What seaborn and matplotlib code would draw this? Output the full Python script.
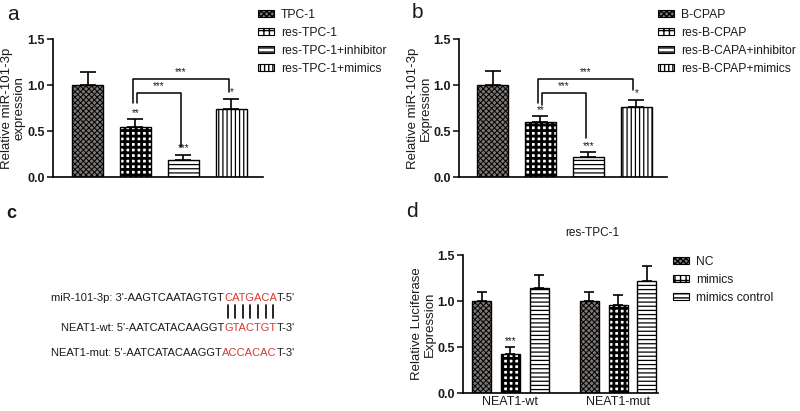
import matplotlib
matplotlib.use("Agg")
import matplotlib.pyplot as plt
import seaborn as sns
import numpy as np
import pandas as pd
from matplotlib.patches import Patch

# -----------------------------
# DATA
# -----------------------------
a_groups = ["TPC-1", "res-TPC-1", "res-TPC-1+inhibitor", "res-TPC-1+mimics"]
a_means = [1.00, 0.54, 0.19, 0.74]
a_errs = [0.145, 0.09, 0.05, 0.11]
a_stars = ["", "**", "***", "*"]

b_groups = ["B-CPAP", "res-B-CPAP", "res-B-CAPA+inhibitor", "res-B-CPAP+mimics"]
b_means = [1.00, 0.60, 0.22, 0.765]
b_errs = [0.15, 0.06, 0.05, 0.075]
b_stars = ["", "**", "***", "*"]

# brackets: (x_left, x_right, left_bottom, top, right_bottom, label)
a_brackets = [(0.95, 2.95, 0.80, 1.07, 0.92, "***"), (1.03, 1.95, 0.80, 0.915, 0.33, "***")]
b_brackets = [(0.95, 2.93, 0.80, 1.07, 0.95, "***"), (1.03, 1.94, 0.78, 0.915, 0.42, "***")]

d_sites = ["NEAT1-wt", "NEAT1-mut"]
d_treat = ["NC", "mimics", "mimics control"]
d_means = {"NC": [1.00, 1.00], "mimics": [0.42, 0.955], "mimics control": [1.14, 1.22]}
d_errs = {"NC": [0.10, 0.10], "mimics": [0.075, 0.115], "mimics control": [0.14, 0.16]}
d_stars = {"mimics": ["***", ""]}

seq_rows = [
    ("miR-101-3p: 3'-AAGTCAATAGTGT", "CATGACA", "T-5'"),
    ("NEAT1-wt: 5'-AATCATACAAGGT", "GTACTGT", "T-3'"),
    ("NEAT1-mut: 5'-AATCATACAAGGT", "ACCACAC", "T-3'"),
]

# -----------------------------
# STYLE
# -----------------------------
sns.set_style("white")
plt.rcParams["font.family"] = ["Liberation Sans", "DejaVu Sans"]
plt.rcParams["hatch.color"] = "black"

TXT = "#1a1a1a"
RED = "#d8392f"
# (facecolor, hatch, hatch linewidth)
STYLES = [("#7d7773", "xxxxxx", 0.7), ("white", "+++", 2.0),
          ("white", "----", 0.9), ("white", "||||", 0.9)]

W, H = 800, 411
fig = plt.figure(figsize=(8, 4.11), dpi=100)

# overlay axes in pixel coords (panel c text + letters)
ov = fig.add_axes([0, 0, 1, 1])
ov.set_xlim(0, W)
ov.set_ylim(H, 0)
ov.axis("off")


def px_axes(left, right, top, bottom):
    return fig.add_axes([left / W, 1 - bottom / H, (right - left) / W, (bottom - top) / H])


def style_bars(patches, style):
    face, hatch, hlw = style
    for p in patches:
        p.set_facecolor(face)
        p.set_edgecolor("black")
        p.set_linewidth(1.0)
        p.set_hatch(hatch)
        if hasattr(p, "set_hatch_linewidth"):
            p.set_hatch_linewidth(hlw)


def make_handle(style):
    face, hatch, hlw = style
    h = Patch(facecolor=face, edgecolor="black", hatch=hatch, linewidth=0.8)
    if hasattr(h, "set_hatch_linewidth"):
        h.set_hatch_linewidth(hlw)
    return h


def style_axes(ax, ylabel, width_px):
    ax.set_ylim(0, 1.5)
    ax.set_yticks([0, 0.5, 1.0, 1.5])
    ax.set_yticklabels(["0.0", "0.5", "1.0", "1.5"])
    for lbl in ax.get_yticklabels():
        lbl.set_fontweight("bold")
    ax.tick_params(axis="y", direction="out", length=4, width=1.2, labelsize=9,
                   pad=2, colors=TXT, left=True)
    ax.tick_params(axis="x", length=0)
    for s in ["top", "right"]:
        ax.spines[s].set_visible(False)
    for s in ["left", "bottom"]:
        ax.spines[s].set_linewidth(1.2)
        ax.spines[s].set_color("black")
    ax.set_xlabel("")
    ax.set_ylabel(ylabel, fontsize=9.5, color=TXT, linespacing=1.15)
    ax.yaxis.set_label_coords(-27 / width_px, 0.5)


def legend_at(ax, handles, labels, x, y):
    ax.legend(handles, labels, loc="upper left", bbox_to_anchor=(x / W, 1 - y / H),
              bbox_transform=fig.transFigure, frameon=False, fontsize=8.7,
              handlelength=1.3, handleheight=0.55, handletextpad=0.6,
              labelspacing=0.5, borderpad=0, borderaxespad=0, labelcolor=TXT)


def bar_panel(ax, groups, means, errs, stars, brackets, ylabel, width_px, xlim, leg_xy):
    df = pd.DataFrame({"group": groups, "value": means})
    sns.barplot(data=df, x="group", y="value", hue="group", order=groups,
                hue_order=groups, width=0.65, legend=False, ax=ax, zorder=2)
    for cont, st in zip(ax.containers, STYLES):
        style_bars(cont.patches, st)
    xs = [p.get_x() + p.get_width() / 2 for p in ax.patches]
    ax.errorbar(xs, means, yerr=[np.zeros(len(means)), errs], fmt="none",
                ecolor="black", elinewidth=1.2, capsize=5.5, capthick=1.2, zorder=3)
    for x, m, e, s in zip(xs, means, errs, stars):
        if s:
            ax.text(x, m + e + 0.015, s, ha="center", va="bottom", fontsize=7, color=TXT)
    for xl, xr, lb, top, rb, lab in brackets:
        ax.plot([xl, xl, xr, xr], [lb, top, top, rb], color="black", lw=1.1, zorder=3)
        ax.text((xl + xr) / 2, top + 0.02, lab, ha="center", va="bottom", fontsize=7, color=TXT)
    ax.set_xlim(*xlim)
    ax.set_xticks([])
    style_axes(ax, ylabel, width_px)
    legend_at(ax, [make_handle(st) for st in STYLES], groups, *leg_xy)


# -----------------------------
# PANEL a
# -----------------------------
ax_a = px_axes(53, 263, 39, 177)
bar_panel(ax_a, a_groups, a_means, a_errs, a_stars, a_brackets,
          "Relative miR-101-3p\nexpression", 210, (-0.72, 3.66), (258, 9))

# -----------------------------
# PANEL b
# -----------------------------
ax_b = px_axes(459, 667, 39, 177)
bar_panel(ax_b, b_groups, b_means, b_errs, b_stars, b_brackets,
          "Relative miR-101-3p\nExpression", 208, (-0.70, 3.64), (658, 9))

# -----------------------------
# PANEL d
# -----------------------------
ax_d = px_axes(463, 658, 255, 393)
rows = []
for t in d_treat:
    for s, m in zip(d_sites, d_means[t]):
        rows.append({"site": s, "treat": t, "value": m})
ddf = pd.DataFrame(rows)
sns.barplot(data=ddf, x="site", y="value", hue="treat", order=d_sites,
            hue_order=d_treat, width=0.8, gap=0.34, legend=False, ax=ax_d, zorder=2)
for cont, t, st in zip(ax_d.containers, d_treat, STYLES[:3]):
    style_bars(cont.patches, st)
    xs = [p.get_x() + p.get_width() / 2 for p in cont.patches]
    ax_d.errorbar(xs, d_means[t], yerr=[np.zeros(2), d_errs[t]], fmt="none",
                  ecolor="black", elinewidth=1.2, capsize=3.8, capthick=1.2, zorder=3)
    for x, m, e, s in zip(xs, d_means[t], d_errs[t], d_stars.get(t, ["", ""])):
        if s:
            ax_d.text(x, m + e + 0.015, s, ha="center", va="bottom", fontsize=7, color=TXT)
ax_d.set_xlim(-0.44, 1.37)
style_axes(ax_d, "Relative Luciferase\nExpression", 195)
ax_d.tick_params(axis="x", labelsize=9, colors=TXT, pad=2)
legend_at(ax_d, [make_handle(st) for st in STYLES[:3]], d_treat, 673, 256)
ov.text(592, 233, "res-TPC-1", ha="center", va="center", fontsize=8.5, color=TXT)

# -----------------------------
# PANEL c (sequence alignment)
# -----------------------------
renderer = fig.canvas.get_renderer()
row_y = [298, 328, 353]
red_boxes = []
for (pre, mid, post), y in zip(seq_rows, row_y):
    x = 295
    for piece, col in [(post, TXT), (mid, RED), (pre, TXT)]:
        t = ov.text(x, y, piece, ha="right", va="center", fontsize=8, color=col)
        bb = t.get_window_extent(renderer)
        if col == RED:
            red_boxes.append(bb)
        x = bb.x0
bb = red_boxes[0]
n = len(seq_rows[0][1])
cw = (bb.x1 - bb.x0) / n
for i in range(n):
    cx = bb.x0 + cw * (i + 0.5)
    ov.plot([cx, cx], [305, 318], color="black", lw=1.2)

# panel letters
ov.text(7, 14, "a", fontsize=15, va="center", ha="left", color=TXT)
ov.text(412, 13, "b", fontsize=15, va="center", ha="left", color=TXT)
ov.text(6, 213, "c", fontsize=13, fontweight="bold", va="center", ha="left", color=TXT)
ov.text(406, 211, "d", fontsize=15, va="center", ha="left", color=TXT)

fig.savefig("out.png", dpi=100)
